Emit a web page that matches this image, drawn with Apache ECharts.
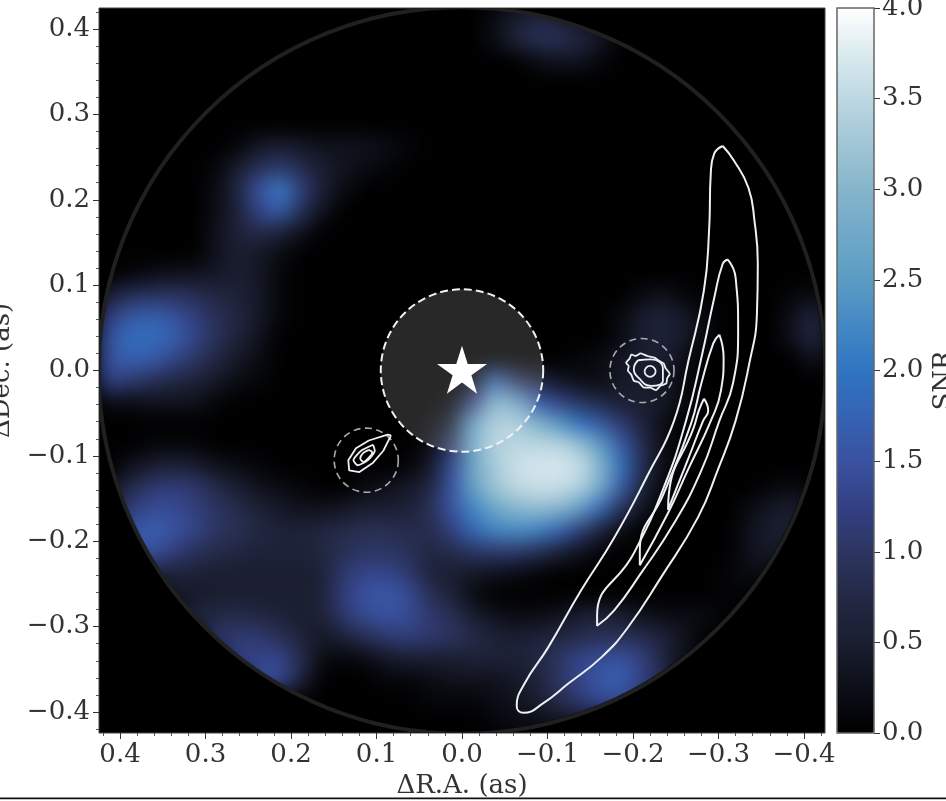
<!DOCTYPE html>
<html><head><meta charset="utf-8">
<script src="https://cdn.jsdelivr.net/npm/echarts@6/dist/echarts.min.js"></script>
<style>
html,body{margin:0;padding:0;background:#fff;width:946px;height:801px;overflow:hidden}
#plotBack{position:absolute;left:99px;top:8px;width:726px;height:725px;background:#000;overflow:hidden}
#clip{position:absolute;left:0;top:0;width:726px;height:725px;clip-path:circle(362px at 362px 362px)}
#heat{position:absolute;left:0;top:0;width:726px;height:725px;filter:blur(10px)}
#main{position:absolute;left:0;top:0;width:946px;height:801px}
</style></head><body>
<div id="plotBack"><div id="clip"><div id="heat"></div></div></div>
<div id="main"></div>
<script>
// SNR, in tenths, top row first; each segment is [first column, values...]
const snrRows = [
[[18,2,5,7,6,3]],
[[18,2,6,9,9,7,4]],
[[20,2,3,3,1]],
[],[],[],
[[6,1,4,5,4,3,3,3,2,1]],
[[5,1,5,9,11,8,5,3,2,1]],
[[5,2,7,15,21,12,5,2]],
[[5,2,6,13,17,9,3]],
[[5,3,6,8,6,3]],
[[5,3,5,4,2]],
[[1,1,2,3,3,4,5,4,1]],
[[0,6,9,10,10,9,7,6,4,1],[25,2,3,1],[32,1,2]],
[[0,12,16,17,15,12,9,7,4,1],[24,2,5,6,4,1],[32,3,7]],
[[0,15,19,19,17,13,9,6,3],[24,2,5,6,4,1],[32,3,7]],
[[0,15,17,16,13,10,7,4,2],[22,1,2,4,5,5,2],[33,3]],
[[0,13,11,9,7,6,4,2,1],[17,2,18,10,6,4,2,2,4,5,4,1]],
[[0,2,2,3,3,3,1],[16,1,12,29,27,17,13,10,7,5,5,4,1]],
[[15,1,5,25,33,33,30,25,20,16,11,6,2]],
[[2,1,1,1],[15,2,10,27,34,35,35,35,32,25,16,8,2]],
[[1,3,5,6,5,3,2,1],[14,1,4,14,27,33,36,37,37,36,30,19,8,2]],
[[0,3,8,11,12,11,8,5,3,2,1],[12,2,3,4,7,15,26,32,35,36,36,34,28,16,6,1],[31,1,2]],
[[0,6,12,14,14,12,10,8,6,4,3,3,4,5,5,6,9,15,22,27,30,31,30,26,18,9,3],[30,2,4,5,3]],
[[1,15,17,15,13,10,9,7,6,6,7,8,9,9,8,8,12,18,22,23,22,18,12,6,2],[30,3,5,5]],
[[1,15,15,12,9,8,7,6,6,6,7,9,10,10,9,7,8,10,11,11,9,6,3,1],[30,3,4,3]],
[[2,6,6,6,5,5,5,5,5,6,11,13,13,11,6,5,4,3,2,1],[29,1,2,2]],
[[3,4,4,5,5,5,5,5,6,12,15,16,14,9,6,2],[29,1]],
[[4,7,7,8,7,6,5,6,11,14,15,14,11,9,5,3,2,2,3,5,6,5,3,2,2,2]],
[[5,11,11,11,9,6,4,6,9,11,12,11,10,8,6,5,6,7,8,9,9,8,6,3]],
[[6,13,13,13,8,2,1,2,4,5,5,5,6,6,6,7,10,13,14,15,12,6,2]],
[[7,14,14,6],[13,1,1,2,3,3,3,4,6,10,13,16,17,12,8]],
[[15,1,1,1,2,3,5,8,11,14,14,10]],
[[18,1,2,2,3,3]]
];
const cellCount = 34;
const xTicks = [0.4,0.3,0.2,0.1,0,-0.1,-0.2,-0.3,-0.4];
const yTicks = [-0.4,-0.3,-0.2,-0.1,0,0.1,0.2,0.3,0.4];
const minorStep = 0.02;
const barTicks = [0,0.5,1,1.5,2,2.5,3,3.5,4];
const palette = ['#000000','#0d0f18','#1a1e30','#232945','#2c3560','#334084','#3a52a0','#3563b4','#2f75c2','#4488c4','#5b9cc4','#70a9c8','#86b5cb','#a1c6d5','#bcd7e2','#dcebf0','#ffffff'];
// contours, [dRA, dDec] in arcsec
const crescent1 = [[-0.305,0.263],[-0.318,0.246],[-0.335,0.214],[-0.342,0.176],[-0.346,0.125],[-0.345,0.067],[-0.336,0.008],[-0.320,-0.059],[-0.299,-0.117],[-0.276,-0.172],[-0.233,-0.242],[-0.194,-0.301],[-0.163,-0.336],[-0.124,-0.367],[-0.096,-0.389],[-0.072,-0.401],[-0.064,-0.393],[-0.073,-0.367],[-0.101,-0.324],[-0.139,-0.258],[-0.178,-0.196],[-0.218,-0.121],[-0.248,-0.059],[-0.265,0.012],[-0.283,0.094],[-0.289,0.164],[-0.291,0.231],[-0.295,0.254]];
const crescent2 = [[-0.311,0.130],[-0.320,0.109],[-0.323,0.047],[-0.317,-0.015],[-0.301,-0.059],[-0.280,-0.117],[-0.248,-0.179],[-0.209,-0.238],[-0.178,-0.281],[-0.158,-0.299],[-0.158,-0.287],[-0.201,-0.214],[-0.236,-0.137],[-0.262,-0.059],[-0.280,0.015],[-0.295,0.085],[-0.305,0.125]];
const crescent3 = [[-0.301,0.042],[-0.306,0.015],[-0.303,-0.023],[-0.291,-0.059],[-0.264,-0.117],[-0.241,-0.167],[-0.208,-0.228],[-0.208,-0.211],[-0.236,-0.144],[-0.268,-0.062],[-0.280,-0.015],[-0.294,0.032]];
const crescent4 = [[-0.283,-0.033],[-0.288,-0.047],[-0.282,-0.059],[-0.264,-0.105],[-0.241,-0.163],[-0.242,-0.144],[-0.271,-0.067],[-0.277,-0.047]];
const rightOuter = [[-0.198,0.019],[-0.203,0.017],[-0.209,0.020],[-0.217,0.017],[-0.225,0.015],[-0.231,0.011],[-0.236,0.008],[-0.238,0.003],[-0.243,-0.004],[-0.240,-0.009],[-0.239,-0.015],[-0.232,-0.018],[-0.227,-0.023],[-0.220,-0.020],[-0.213,-0.020],[-0.207,-0.014],[-0.201,-0.012],[-0.198,-0.005],[-0.194,0],[-0.195,0.005],[-0.192,0.009],[-0.196,0.014]];
const rightMiddle = [[-0.206,0.012],[-0.221,0.013],[-0.235,0.002],[-0.235,-0.012],[-0.221,-0.018],[-0.207,-0.009],[-0.201,0.002]];
const rightInner = [[-0.2135,-0.001],[-0.2155,0.0035],[-0.220,0.0055],[-0.2245,0.0035],[-0.2265,-0.001],[-0.2245,-0.0055],[-0.220,-0.0075],[-0.2155,-0.0055]];
const leftOuter = [[0.083,-0.076],[0.087,-0.075],[0.109,-0.082],[0.124,-0.091],[0.133,-0.105],[0.132,-0.117],[0.120,-0.119],[0.104,-0.108],[0.092,-0.094]];
const leftMiddle = [[0.104,-0.087],[0.118,-0.094],[0.127,-0.105],[0.122,-0.111],[0.110,-0.105],[0.102,-0.094]];
const leftInner = [[0.109,-0.093],[0.116,-0.097],[0.119,-0.103],[0.115,-0.107],[0.109,-0.102],[0.105,-0.096]];
const fieldRing = [[0,0,0.425]];
const maskRing = [[0,0,0.095]];
const companionRings = [[-0.2105,0,0.0375],[0.112,-0.105,0.0375]];
const starPoint = [[0,0.001]];

const cells = [];
snrRows.forEach((segments,row)=>{
  const values = new Array(cellCount).fill(0);
  segments.forEach(seg=>seg.slice(1).forEach((v,k)=>{values[seg[0]+k]=v/10;}));
  values.forEach((v,col)=>cells.push([col,cellCount-1-row,v]));
});
const idx = Array.from({length:cellCount},(_,i)=>i);

const heat = echarts.init(document.getElementById('heat'));
heat.setOption({
  animation:false,
  grid:{left:0,right:0,top:0,bottom:0,outerBoundsMode:'none'},
  xAxis:{type:'category',data:idx,show:false},
  yAxis:{type:'category',data:idx,show:false},
  visualMap:{show:false,min:0,max:4,inRange:{color:palette},seriesIndex:0},
  series:[{type:'heatmap',data:cells,progressive:0,silent:true}]
});

const minorTicks = (()=>{const a=[];for(let i=-21;i<=21;i++){if(i%5!==0)a.push(+(i*minorStep).toFixed(2));}return a;})();
const fmt = v=>(+v).toFixed(1).replace('-','\u2212');
const font = {fontFamily:'DejaVu Serif',fontSize:26,color:'#333'};
const lim = 0.4246;
const ringItem = (style)=>(params,api)=>{
  const c = api.coord([api.value(0),api.value(1)]);
  const r = api.size([api.value(2),0])[0];
  return {type:'circle',shape:{cx:c[0],cy:c[1],r:r},style:style};
};
const contour = (pts,width,smooth)=>({
  type:'line',data:pts.concat([pts[0]]),showSymbol:false,symbol:'none',smooth:smooth,
  lineStyle:{color:'#eef0f2',width:width},silent:true,clip:true,z:6
});
const hiddenLine = {show:false,onZero:false};
const main = echarts.init(document.getElementById('main'));
main.setOption({
  animation:false,
  grid:[
    {left:99,top:8,width:726,height:725,show:true,borderColor:'#444',borderWidth:1,backgroundColor:'transparent',outerBoundsMode:'none'},
    {left:837,top:8,width:37,height:725,show:true,borderColor:'#666',borderWidth:1.5,backgroundColor:'transparent',z:5,outerBoundsMode:'none'}
  ],
  xAxis:[
    {gridIndex:0,type:'value',position:'bottom',inverse:true,min:-lim,max:lim,splitLine:{show:false},
     axisLine:hiddenLine,
     axisTick:{length:6,lineStyle:{color:'#333',width:1},customValues:xTicks},
     axisLabel:Object.assign({customValues:xTicks,formatter:fmt,margin:9,hideOverlap:false,showMinLabel:true,showMaxLabel:true},font),
     name:'\u0394R.A. (as)',nameLocation:'middle',nameGap:39,nameTextStyle:font},
    {gridIndex:0,type:'value',position:'bottom',inverse:true,min:-lim,max:lim,splitLine:{show:false},
     axisLine:hiddenLine,axisLabel:{show:false},
     axisTick:{length:3,lineStyle:{color:'#555',width:1},customValues:minorTicks}},
    {gridIndex:1,type:'value',min:0,max:1,show:false}
  ],
  yAxis:[
    {gridIndex:0,type:'value',position:'left',min:-lim,max:lim,splitLine:{show:false},
     axisLine:hiddenLine,
     axisTick:{length:6,lineStyle:{color:'#333',width:1},customValues:yTicks},
     axisLabel:Object.assign({customValues:yTicks,formatter:fmt,margin:9,showMinLabel:true,showMaxLabel:true},font),
     name:'\u0394Dec. (as)',nameLocation:'middle',nameGap:84,nameRotate:90,nameTextStyle:font},
    {gridIndex:0,type:'value',position:'left',min:-lim,max:lim,splitLine:{show:false},
     axisLine:hiddenLine,axisLabel:{show:false},
     axisTick:{length:3,lineStyle:{color:'#555',width:1},customValues:minorTicks}},
    {gridIndex:1,type:'value',position:'right',min:0,max:4,interval:0.5,splitLine:{show:false},
     axisLine:hiddenLine,
     axisTick:{length:6,lineStyle:{color:'#333',width:1},customValues:barTicks},
     axisLabel:Object.assign({customValues:barTicks,formatter:fmt,margin:8,showMinLabel:true,showMaxLabel:true},font),
     name:'SNR',nameLocation:'middle',nameGap:57,nameRotate:90,nameTextStyle:Object.assign({padding:[0,20,0,0]},font)}
  ],
  visualMap:[{type:'continuous',show:true,min:0,max:4,seriesIndex:[],left:837,top:8,itemWidth:37,itemHeight:725,
    text:null,showLabel:false,calculable:false,realtime:false,inRange:{color:palette},textStyle:{fontSize:0},padding:0,hoverLink:false,z:1}],
  graphic:[{type:'rect',shape:{x:0,y:797.5,width:946,height:1.8},style:{fill:'#111'},silent:true}],
  series:[
    {type:'custom',xAxisIndex:0,yAxisIndex:0,data:fieldRing,clip:true,silent:true,z:3,encode:{x:0,y:1},
     renderItem:ringItem({fill:'none',stroke:'#202020',lineWidth:4})},
    {type:'custom',xAxisIndex:0,yAxisIndex:0,data:maskRing,silent:true,z:4,encode:{x:0,y:1},
     renderItem:ringItem({fill:'rgba(255,255,255,0.155)',stroke:'#eef2f4',lineWidth:2,lineDash:[8,4]})},
    {type:'custom',xAxisIndex:0,yAxisIndex:0,data:companionRings,silent:true,z:5,encode:{x:0,y:1},
     renderItem:ringItem({fill:'none',stroke:'#a9aaae',lineWidth:1.6,lineDash:[7,4.5]})},
    contour(crescent1,2,0.5),contour(crescent2,2,0.5),contour(crescent3,2,0.5),contour(crescent4,2,0.5),
    contour(rightOuter,1.8,0.2),contour(rightMiddle,1.8,0.5),contour(rightInner,1.8,0.5),
    contour(leftOuter,1.8,false),contour(leftMiddle,1.8,0.2),contour(leftInner,1.8,0.3),
    {type:'scatter',data:starPoint,symbol:'path://M50 2 L61 38 L98 38 L68 60 L79 96 L50 74 L21 96 L32 60 L2 38 L39 38 Z',
     symbolSize:[50,48],itemStyle:{color:'#fff',opacity:1},silent:true,z:8,clip:false}
  ]
});
</script>
</body></html>
